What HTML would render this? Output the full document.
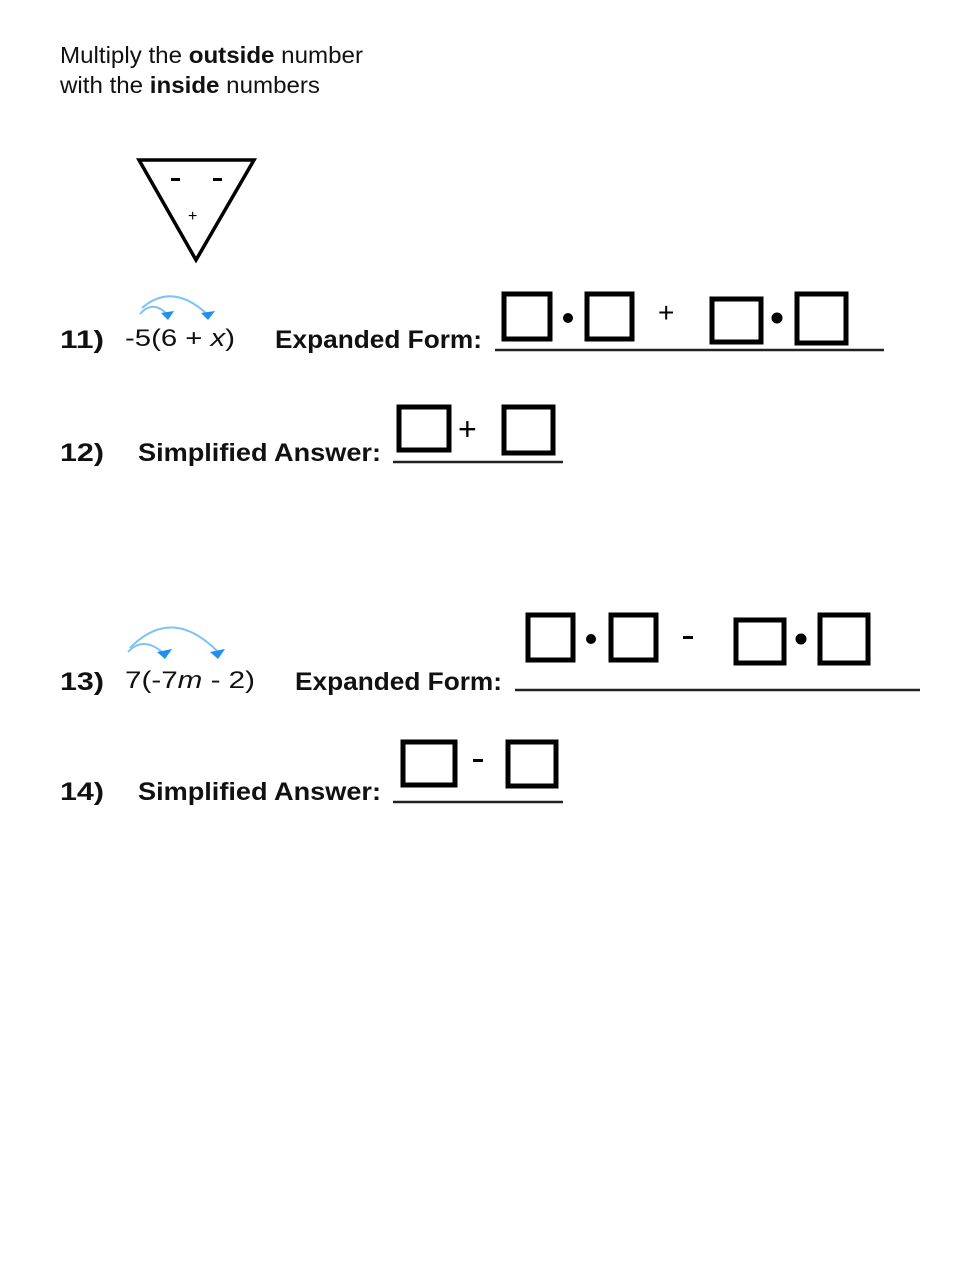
<!DOCTYPE html>
<html><head><meta charset="utf-8"><style>
html,body{margin:0;padding:0;background:#fff;}
svg{display:block;}
.h{font-family:"Liberation Sans",sans-serif;font-size:23.5px;fill:#111;}
.c{font-family:"Liberation Sans",sans-serif;font-weight:bold;font-size:25px;fill:#111;}
.e{font-family:"Liberation Sans",sans-serif;font-size:24px;fill:#111;}
.b{fill:none;stroke:#000;stroke-width:5;}
.l{stroke:#222;stroke-width:2.5;}
.a{fill:none;stroke:#7cc4f4;stroke-width:2;}
.t{fill:#1e90f0;}
</style></head><body>
<svg width="979" height="1266" xmlns="http://www.w3.org/2000/svg">
<text class="h" x="60" y="63" textLength="303" lengthAdjust="spacingAndGlyphs">Multiply the <tspan font-weight="bold">outside</tspan> number</text>
<text class="h" x="60" y="93" textLength="260" lengthAdjust="spacingAndGlyphs">with the <tspan font-weight="bold">inside</tspan> numbers</text>
<polygon points="139,160 254,160 196,260" fill="none" stroke="#000" stroke-width="3.5"/>
<rect x="171" y="178" width="9" height="3" fill="#000"/>
<rect x="213" y="178" width="9" height="3" fill="#000"/>
<text x="188" y="221" font-family="Liberation Sans" font-size="16">+</text>

<!-- 11 -->
<path class="a" d="M140,314 Q152,300 166,313"/>
<path class="a" d="M142,308 Q172,282 207,314"/>
<polygon class="t" points="161,313 174,311 168,320"/>
<polygon class="t" points="201,313 215,311 208,320"/>
<text class="c" x="60" y="348" textLength="44" lengthAdjust="spacingAndGlyphs">11)</text>
<text class="e" x="125" y="346" textLength="110" lengthAdjust="spacingAndGlyphs">-5(6 + <tspan font-style="italic">x</tspan>)</text>
<text class="c" x="275" y="348" textLength="207" lengthAdjust="spacingAndGlyphs">Expanded Form:</text>
<rect class="b" x="504" y="294" width="46" height="45"/>
<circle cx="568" cy="318" r="5"/>
<rect class="b" x="587" y="294" width="45" height="45"/>
<text x="658" y="322" font-family="Liberation Sans" font-size="28">+</text>
<rect class="b" x="712" y="299" width="49" height="43"/>
<circle cx="777" cy="318" r="5.5"/>
<rect class="b" x="797" y="294" width="49" height="49"/>
<line class="l" x1="495" y1="350" x2="884" y2="350"/>

<!-- 12 -->
<text class="c" x="60" y="461" textLength="44" lengthAdjust="spacingAndGlyphs">12)</text>
<text class="c" x="138" y="461" textLength="243" lengthAdjust="spacingAndGlyphs">Simplified Answer:</text>
<rect class="b" x="399" y="407" width="50" height="43"/>
<text x="458" y="440" font-family="Liberation Sans" font-size="32">+</text>
<rect class="b" x="504" y="407" width="49" height="46"/>
<line class="l" x1="393" y1="462" x2="563" y2="462"/>

<!-- 13 -->
<path class="a" d="M128,652 Q143,636 162,652"/>
<path class="a" d="M130,648 Q172,605 218,652"/>
<polygon class="t" points="157,652 172,649 165,659"/>
<polygon class="t" points="210,652 225,649 218,659"/>
<text class="c" x="60" y="690" textLength="44" lengthAdjust="spacingAndGlyphs">13)</text>
<text class="e" x="125" y="688" textLength="130" lengthAdjust="spacingAndGlyphs">7(-7<tspan font-style="italic">m</tspan> - 2)</text>
<text class="c" x="295" y="690" textLength="207" lengthAdjust="spacingAndGlyphs">Expanded Form:</text>
<rect class="b" x="528" y="615" width="45" height="45"/>
<circle cx="591" cy="639" r="5"/>
<rect class="b" x="611" y="615" width="45" height="45"/>
<rect x="683" y="636" width="10" height="3" fill="#000"/>
<rect class="b" x="736" y="620" width="48" height="43"/>
<circle cx="801" cy="639" r="5.5"/>
<rect class="b" x="820" y="615" width="48" height="48"/>
<line class="l" x1="515" y1="690" x2="920" y2="690"/>

<!-- 14 -->
<text class="c" x="60" y="800" textLength="44" lengthAdjust="spacingAndGlyphs">14)</text>
<text class="c" x="138" y="800" textLength="243" lengthAdjust="spacingAndGlyphs">Simplified Answer:</text>
<rect class="b" x="403" y="742" width="52" height="43"/>
<rect x="473" y="759" width="10" height="3" fill="#000"/>
<rect class="b" x="508" y="742" width="48" height="44"/>
<line class="l" x1="393" y1="802" x2="563" y2="802"/>
</svg>
</body></html>
